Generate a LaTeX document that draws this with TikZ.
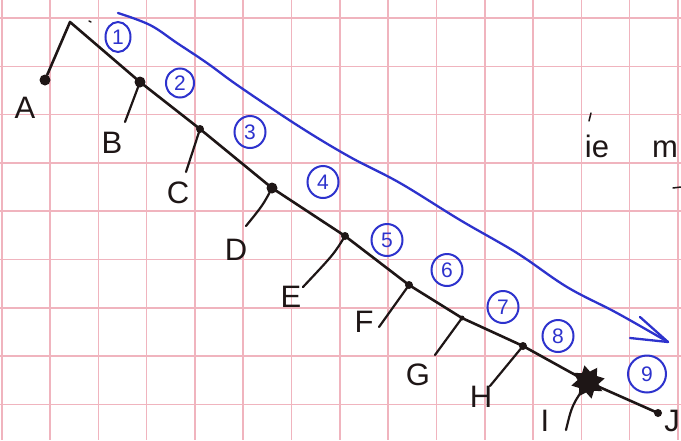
\documentclass[tikz,border=0pt]{standalone}
\usepackage{fontspec}
\setmainfont{Liberation Sans}
\usetikzlibrary{shapes.geometric}
\definecolor{gridpink}{RGB}{240,180,190}
\definecolor{inkblack}{RGB}{30,22,22}
\definecolor{inkblue}{RGB}{45,50,205}
\tikzset{
  gridline/.style={draw=gridpink, line width=1.6pt},
  chain/.style={draw=inkblack, line width=2.6pt, line cap=round, line join=round},
  tick/.style={draw=inkblack, line width=2.2pt, line cap=round},
  dotnode/.style={circle, fill=inkblack, inner sep=0pt, minimum size=11pt},
  smalldot/.style={circle, fill=inkblack, inner sep=0pt, minimum size=8pt},
  letter/.style={text=inkblack, font=\fontsize{31}{33}\selectfont, inner sep=0pt},
  num/.style={ellipse, draw=inkblue, line width=2pt, text=inkblue, inner sep=0pt,
              minimum width=31pt, minimum height=32pt, font=\fontsize{21}{22}\selectfont},
  bluestroke/.style={draw=inkblue, line width=2.3pt, line cap=round, line join=round}
}
\begin{document}
\begin{tikzpicture}[x=1pt,y=-1pt]
\useasboundingbox (0,0) rectangle (681,440);
\fill[white] (0,0) rectangle (681,440);
% grid
\foreach \i in {-1,...,13} \draw[gridline] ({50+48.3*\i},0) -- ({50+48.3*\i},440);
\foreach \j in {0,...,8} \draw[gridline] (0,{18+48.3*\j}) -- (681,{18+48.3*\j});

% chain nodes
\coordinate (apex) at (70,22);
\node[dotnode] (a) at (45,80) {};
\node[dotnode] (b) at (140,82) {};
\node[smalldot] (c) at (200,129) {};
\node[dotnode] (d) at (272,188) {};
\node[smalldot] (e) at (345,236) {};
\node[smalldot] (f) at (409,285) {};
\node[circle, fill=inkblack, inner sep=0pt, minimum size=5pt] (g) at (462,318) {};
\node[smalldot] (h) at (523,346) {};
\node[star, star points=8, star point ratio=1.6, fill=inkblack, inner sep=0pt, minimum size=34pt, rotate=12] (blob) at (588,382) {};
\node[smalldot] (j) at (658,413) {};

\draw[chain] (a) -- (apex) -- (b.center) -- (c.center) -- (d.center) -- (e.center) -- (f.center)
  -- (g.center) -- (h.center) -- (blob.center) -- (j.center);

% tick ends
\coordinate (tb) at (125,122);
\coordinate (tc) at (186,172);
\coordinate (td) at (246,226);
\coordinate (te) at (303,287);
\coordinate (tf) at (379,327);
\coordinate (tg) at (435,355);
\coordinate (th) at (490,386);
\coordinate (ti) at (566,430);

\draw[tick] (b.center) -- (tb);
\draw[tick] (c.center) -- (tc);
\draw[tick] (d.center) .. controls (263,205) .. (td);
\draw[tick] (e.center) .. controls (334,254) .. (te);
\draw[tick] (f.center) -- (tf);
\draw[tick] (g.center) -- (tg);
\draw[tick] (h.center) -- (th);
\draw[tick] (blob.center) .. controls (572,405) .. (ti);

% letters
\node[letter] (la) at (25,108) {A};
\node[letter] (lb) at (112,143) {B};
\node[letter] (lc) at (178,193) {C};
\node[letter] (ld) at (236,250) {D};
\node[letter] (le) at (291,297) {E};
\node[letter] (lf) at (364,322) {F};
\node[letter] (lg) at (418,375) {G};
\node[letter] (lh) at (481,397) {H};
\node[letter] (li) at (545,421) {I};
\node[letter, anchor=east] (lj) at (680,421) {J};

% numbered circles
\node[num, minimum width=25pt, minimum height=30pt] (n1) at (118,37) {1};
\node[num, minimum width=28pt, minimum height=29pt] (n2) at (180,83) {2};
\node[num] (n3) at (250,132) {3};
\node[num] (n4) at (323,182) {4};
\node[num] (n5) at (387,240) {5};
\node[num] (n6) at (447,270) {6};
\node[num] (n7) at (503,307) {7};
\node[num] (n8) at (558,336) {8};
\node[num, minimum width=38pt, minimum height=37pt] (n9) at (647,374) {9};

% blue arrow
\coordinate (bs) at (118,13);
\coordinate (bt) at (668,342);
\coordinate (bb1) at (640,317);
\coordinate (bb2) at (630,338);
\draw[bluestroke] plot[smooth, tension=0.6] coordinates {(bs) (150,25) (177,43) (207,63) (240,87) (300,127) (350,157) (400,183) (460,220) (517,253) (567,287) (617,313) (bt)};
\draw[bluestroke] (bb1) -- (bt) -- (bb2);

% side text
\node[letter, anchor=base] (tie) at (597,157) {ie};
\node[letter, anchor=base west] (tm) at (652,157) {m};
\draw[tick, line width=1.5pt] (589,121) -- (591,113);
\draw[tick, line width=1.5pt] (673,188) -- (681,187);
\draw[tick, line width=1.5pt] (89,21) -- (91,22);
\end{tikzpicture}
\end{document}
